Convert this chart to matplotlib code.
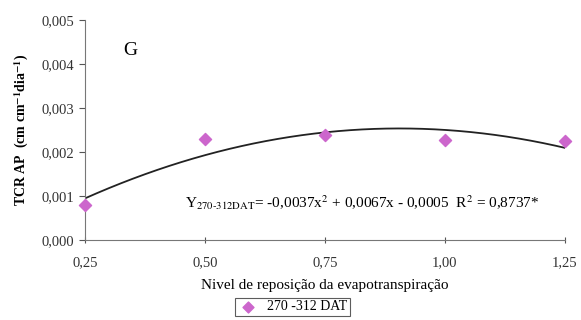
import numpy as np
import matplotlib
matplotlib.use('Agg')
import matplotlib.pyplot as plt
from matplotlib.ticker import FuncFormatter

plt.rcParams['font.family'] = ['Liberation Serif', 'DejaVu Serif']
plt.rcParams['mathtext.fontset'] = 'stix'

# data
niveis = [0.25, 0.50, 0.75, 1.00, 1.25]
tcr_ap = [0.00080, 0.00229, 0.00239, 0.00228, 0.00224]
coef = [-0.0037, 0.0067, -0.0005]  # fitted quadratic
x_ticks = [0.25, 0.50, 0.75, 1.00, 1.25]
y_ticks = [0.000, 0.001, 0.002, 0.003, 0.004, 0.005]

fig = plt.figure(figsize=(5.81, 3.20), dpi=100)
ax = fig.add_axes([0.146, 0.25, 0.826, 0.688])

xs = np.linspace(0.25, 1.25, 200)
ax.plot(xs, np.polyval(coef, xs), color='#222222', lw=1.3)
ax.scatter(niveis, tcr_ap, marker='D', s=38, color='#CC66CC', zorder=3,
           label='270 -312 DAT', clip_on=False)

ax.set_xlim(0.25, 1.25)
ax.set_ylim(0, 0.005)
ax.set_xticks(x_ticks)
ax.set_yticks(y_ticks)
comma = lambda fmt: FuncFormatter(lambda v, p: (fmt % v).replace('.', ','))
ax.xaxis.set_major_formatter(comma('%.2f'))
ax.yaxis.set_major_formatter(comma('%.3f'))
ax.tick_params(axis='x', direction='inout', length=5, labelsize=10.5, colors='#555555', pad=9)
ax.tick_params(axis='y', direction='out', length=4, labelsize=10.5, colors='#555555')
for lab in ax.get_xticklabels() + ax.get_yticklabels():
    lab.set_color('#333333')
for s in ['top', 'right']:
    ax.spines[s].set_visible(False)
for s in ['left', 'bottom']:
    ax.spines[s].set_color('#777777')

ax.set_xlabel('Nivel de reposição da evapotranspiração', fontsize=11, labelpad=7)
ax.set_ylabel(r'TCR AP  (cm cm$^{\mathbf{-1}}$dia$^{\mathbf{-1}}$)', fontsize=10,
              fontweight='bold', labelpad=8)

ax.text(0.33, 0.0042, 'G', fontsize=14)
ax.text(0.458, 0.00072,
        r'Y$_{\mathrm{270\text{-}312DAT}}$= -0,0037x$^{2}$ + 0,0067x - 0,0005  R$^{2}$ = 0,8737*',
        fontsize=11)

leg = ax.legend(loc='upper center', bbox_to_anchor=(0.433, -0.262), frameon=True,
                fancybox=False, edgecolor='#333333', fontsize=10,
                handletextpad=0.6, borderpad=0.2, borderaxespad=0,
                handlelength=1.5, markerscale=0.9)
leg.get_frame().set_linewidth(0.8)

fig.savefig('out.png', dpi=100, facecolor='white')
